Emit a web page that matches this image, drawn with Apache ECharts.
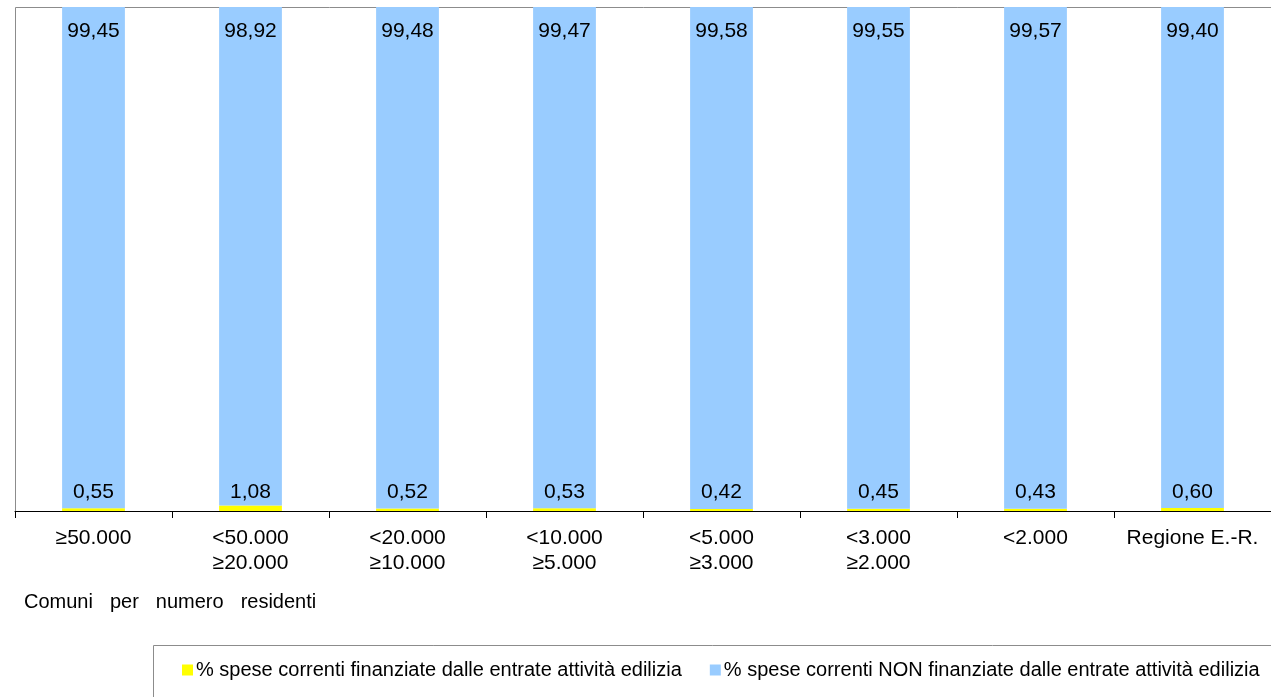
<!DOCTYPE html>
<html>
<head>
<meta charset="utf-8">
<script src="https://cdn.jsdelivr.net/npm/echarts@6/dist/echarts.min.js"></script>
<style>
  html, body { margin: 0; padding: 0; background: #fff; }
  #chart { width: 1271px; height: 697px; }
</style>
</head>
<body>
<div id="chart"></div>
<script>
// Classi di comuni per numero di residenti
const categories = ['≥50.000', '<50.000\n≥20.000', '<20.000\n≥10.000', '<10.000\n≥5.000',
  '<5.000\n≥3.000', '<3.000\n≥2.000', '<2.000', 'Regione E.-R.'];
// Quote percentuali delle spese correnti
const finanziate = [0.55, 1.08, 0.52, 0.53, 0.42, 0.45, 0.43, 0.60];
const nonFinanziate = [99.45, 98.92, 99.48, 99.47, 99.58, 99.55, 99.57, 99.40];
const seriesNames = [
  '% spese correnti finanziate dalle entrate attività edilizia',
  '% spese correnti NON finanziate dalle entrate attività edilizia'
];
const axisTitleWords = ['Comuni', 'per', 'numero', 'residenti'];

const FONT = 'Liberation Sans, Arial, sans-serif';
const fmt = v => v.toFixed(2).replace('.', ',');

const GRID = { left: 15, right: 0, top: 7, bottom: 186 };
const W = 1271, H = 697;
const plotBottom = H - GRID.bottom;

const chart = echarts.init(document.getElementById('chart'), null, { renderer: 'canvas' });
chart.setOption({
  animation: false,
  backgroundColor: '#fff',
  textStyle: { fontFamily: FONT, color: '#000' },
  grid: Object.assign({ containLabel: false, show: false }, GRID),
  legend: {
    left: 177, top: 655, itemWidth: 11, itemHeight: 11, itemGap: 28, icon: 'rect',
    textStyle: { fontFamily: FONT, fontSize: 20, color: '#000', padding: [0, 0, 0, -2] },
    data: seriesNames
  },
  graphic: [
    // plot frame: top and left edges only
    { type: 'line', shape: { x1: GRID.left + 0.5, y1: GRID.top + 0.5, x2: W, y2: GRID.top + 0.5 },
      style: { stroke: '#8c8c8c', lineWidth: 1 } },
    { type: 'line', shape: { x1: GRID.left + 0.5, y1: GRID.top + 0.5, x2: GRID.left + 0.5, y2: plotBottom },
      style: { stroke: '#8c8c8c', lineWidth: 1 } },
    // legend frame
    { type: 'rect', shape: { x: 153.5, y: 645.5, width: 1140, height: 80 },
      style: { fill: 'none', stroke: '#8c8c8c', lineWidth: 1 } },
    { type: 'text', left: 24, top: 592,
      style: {
        text: axisTitleWords.map(w => '{w|' + w + '}').join('{s|}'),
        font: '20px ' + FONT, fill: '#000',
        rich: { w: { fontSize: 20, fontFamily: FONT }, s: { width: 17 } }
      } }
  ],
  xAxis: {
    type: 'category', data: categories, boundaryGap: true,
    axisLine: { lineStyle: { color: '#000', width: 1 } },
    axisTick: { show: true, interval: 0, length: 7, lineStyle: { color: '#000' } },
    axisLabel: { interval: 0, fontFamily: FONT, fontSize: 21, color: '#000', lineHeight: 25, margin: 15 }
  },
  yAxis: { type: 'value', min: 0, max: 100, show: false, splitLine: { show: false } },
  series: [
    {
      name: seriesNames[0], type: 'bar', stack: 'tot', data: finanziate, barWidth: '40%',
      itemStyle: { color: '#FFFF00' },
      label: { show: true, position: 'insideBottom', distance: 8, formatter: p => fmt(p.value),
        fontFamily: FONT, fontSize: 21, color: '#000' }
    },
    {
      name: seriesNames[1], type: 'bar', stack: 'tot', data: nonFinanziate, barWidth: '40%',
      itemStyle: { color: '#99CCFF' },
      label: { show: true, position: 'insideTop', distance: 14, formatter: p => fmt(p.value),
        fontFamily: FONT, fontSize: 21, color: '#000' }
    }
  ]
});
</script>
</body>
</html>
